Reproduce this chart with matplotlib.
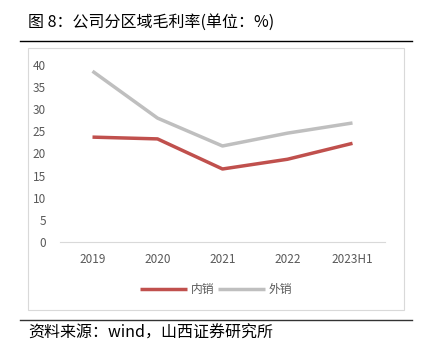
import matplotlib.pyplot as plt
from matplotlib.patches import Rectangle
from matplotlib.lines import Line2D

plt.rcParams['font.family'] = ['Noto Sans CJK SC', 'DejaVu Sans']

years = ["2019", "2020", "2021", "2022", "2023H1"]
domestic = [23.7, 23.3, 16.5, 18.7, 22.3]   # 内销
overseas = [38.6, 28.0, 21.7, 24.6, 26.9]   # 外销

W, H = 421, 343
fig = plt.figure(figsize=(W / 100, H / 100), dpi=100)

# title and rules
fig.text(28 / W, 1 - 22 / H, "图 8：公司分区域毛利率(单位：%)", fontsize=11.5,
         va="center", ha="left", color="black")
fig.add_artist(Line2D([20 / W, 412 / W], [1 - 41 / H, 1 - 41 / H], color="black", lw=1))
fig.add_artist(Rectangle((28 / W, 1 - 310 / H), 376 / W, 262 / H, fill=False,
                         edgecolor="#d9d9d9", lw=0.8))
fig.add_artist(Line2D([20 / W, 412 / W], [1 - 320 / H, 1 - 320 / H], color="#333333", lw=1))
fig.text(28 / W, 1 - 333 / H, "资料来源：wind，山西证券研究所", fontsize=11.5,
         va="center", ha="left", color="black")

ax = fig.add_axes([60 / W, 1 - 242 / H, 325 / W, 177 / H])
x = range(len(years))
ax.plot(x, domestic, color="#c0504d", lw=2.5, label="内销", solid_capstyle="butt")
ax.plot(x, overseas, color="#bfbfbf", lw=2.5, label="外销", solid_capstyle="butt")
ax.set_xlim(-0.5, 4.5)
ax.set_ylim(0, 40)
ax.set_yticks(range(0, 41, 5))
ax.set_xticks(list(x))
ax.set_xticklabels(years)
for s in ["top", "right", "left"]:
    ax.spines[s].set_visible(False)
ax.spines["bottom"].set_color("#d9d9d9")
ax.tick_params(length=0, labelsize=8.5, colors="#595959", pad=8)
ax.tick_params(axis="y", pad=10)

ax.legend(loc="center", bbox_to_anchor=(0.48, -0.27), ncol=2, frameon=False,
          fontsize=8.5, handlelength=4, columnspacing=0.3, handletextpad=0.3,
          labelcolor="#595959")

fig.savefig("out.png", dpi=100)
